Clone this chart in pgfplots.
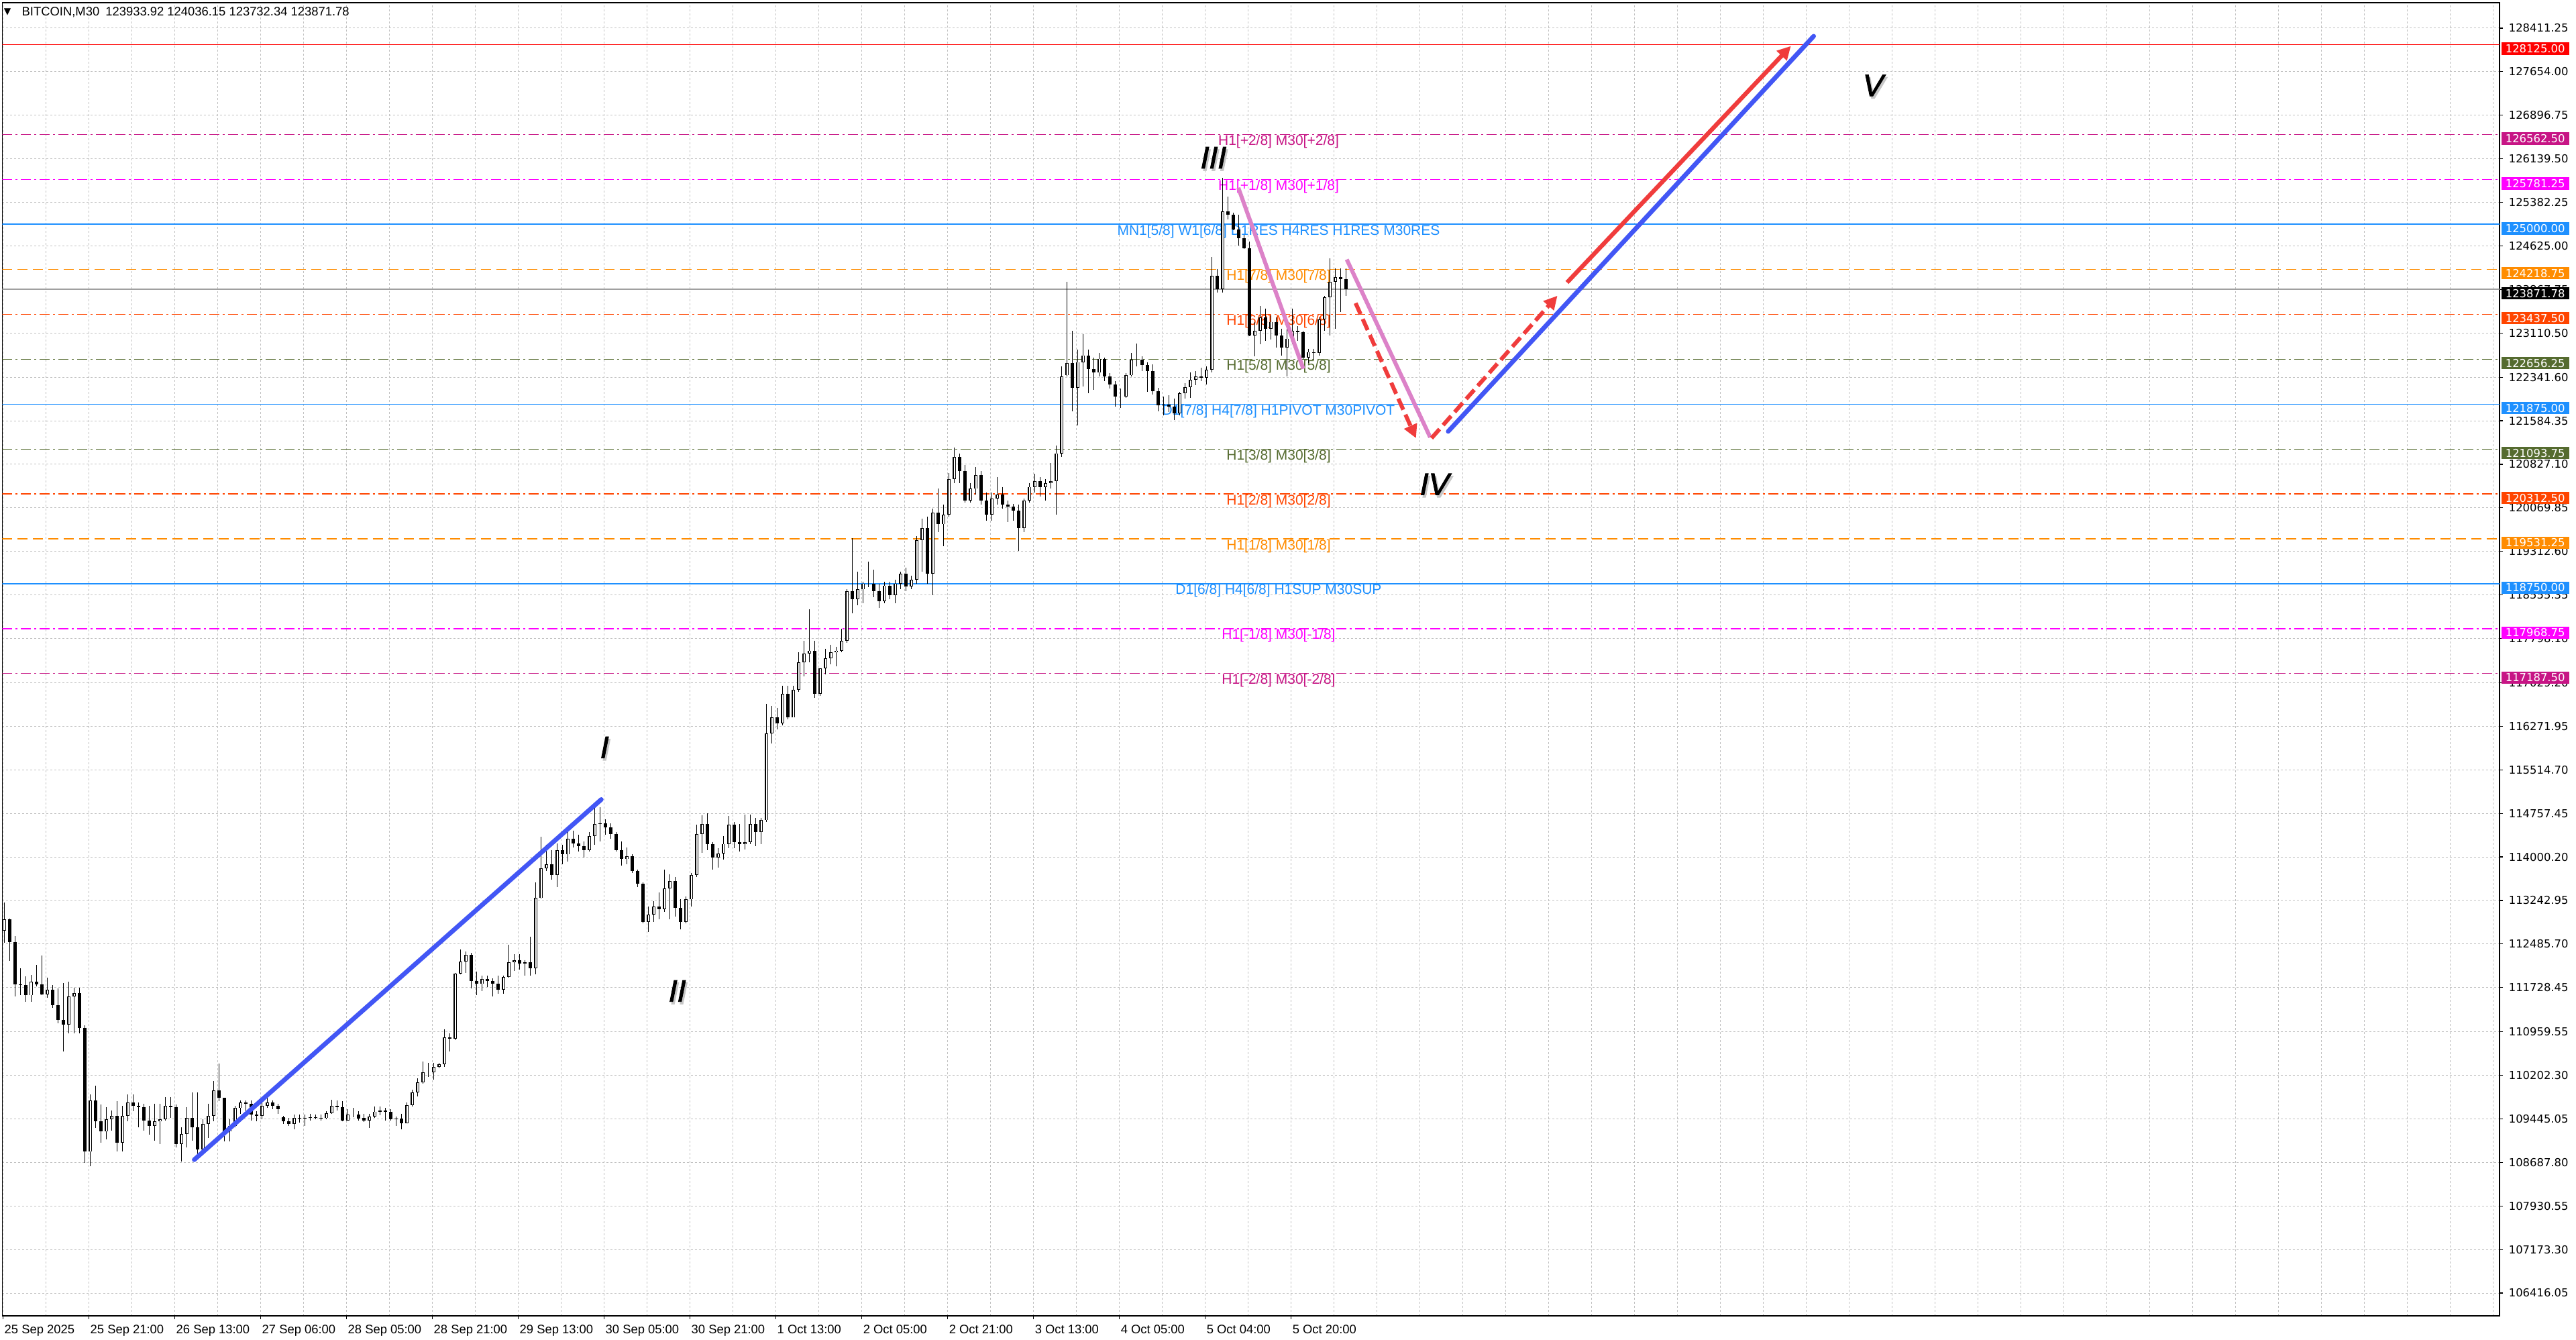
\documentclass[border=0pt]{standalone}
\usepackage{pgfplots}
\pgfplotsset{compat=1.18}
\usepackage{pgfplotstable}
\usetikzlibrary{arrows.meta}
\usepackage{fontspec}
\setmainfont{Liberation Sans}
\newfontfamily\dejavu{DejaVu Sans}
\newfontfamily\wavefont[FakeSlant=0.2,FakeBold=2]{Liberation Sans}

\definecolor{mvr}{RGB}{199,21,133}
\definecolor{mag}{RGB}{255,0,255}
\definecolor{dblue}{RGB}{30,144,255}
\definecolor{dorange}{RGB}{255,140,0}
\definecolor{ored}{RGB}{255,69,0}
\definecolor{dolive}{RGB}{85,107,47}
\definecolor{annblue}{RGB}{66,86,245}
\definecolor{annpink}{RGB}{220,130,200}
\definecolor{annred}{RGB}{240,60,60}
\definecolor{gridgray}{RGB}{192,192,192}
\definecolor{bidgray}{RGB}{160,160,160}

\tikzset{
  dashdot/.style={dash pattern=on 3.75pt off 1.25pt on 0.75pt off 1.25pt},
  longdash/.style={dash pattern=on 3.75pt off 2pt},
  lvl/.style={anchor=north, inner sep=0pt, font=\fontsize{5.25pt}{5.25pt}\selectfont},
  pbox/.style={anchor=west, xshift=0.5pt, yshift=-1.5pt, inner xsep=1.5pt, inner ysep=0pt,
     minimum height=4.6pt, text width=22.25pt, align=left, text=white,
     font=\dejavu\fontsize{4.1pt}{4.1pt}\selectfont},
}
\pgfplotsset{candle/.style={draw=none, mark=none, forget plot,
   error bars/.cd, y dir=minus, y explicit, error mark=none}}

\newcommand\wave[3]{%
  \node[font=\wavefont\fontsize{11.5pt}{11.5pt}\selectfont, text=black!22, xshift=0.6pt, yshift=-0.9pt] at (axis cs:#1,#2) {#3};
  \node[font=\wavefont\fontsize{11.5pt}{11.5pt}\selectfont, text=black] at (axis cs:#1,#2) {#3};
}

\pgfplotstableread{
x o h l c
0.5 112719 113204 112505 112913
2.5 112913 112932 112194 112524
4.5 112524 112622 111573 111787
6.5 111787 112059 111592 111767
8.5 111767 111923 111476 111592
10.5 111592 111942 111476 111826
12.5 111826 112117 111748 111787
14.5 111787 112291 111592 111612
16.5 111612 111903 111554 111690
18.5 111690 111767 111379 111418
20.5 111418 111709 111107 111165
22.5 111165 111806 110622 111088
24.5 111088 111826 110933 111573
26.5 111573 111728 110933 111631
28.5 111631 111728 110933 111030
30.5 111030 111068 108680 108874
32.5 108874 109865 108622 109768
34.5 109768 110020 109282 109399
36.5 109399 109690 109030 109224
38.5 109224 109651 109088 109438
40.5 109438 109593 109243 109496
42.5 109496 109749 108874 109030
44.5 109030 109671 108874 109496
46.5 109496 109865 109399 109729
48.5 109729 109865 109573 109671
50.5 109671 109729 109301 109651
52.5 109651 109710 109243 109418
54.5 109418 109671 109166 109321
56.5 109321 109710 109069 109399
58.5 109399 109710 109010 109438
60.5 109438 109826 109418 109671
62.5 109671 109826 109457 109651
64.5 109651 109690 108952 109010
66.5 109010 109301 108700 109185
68.5 109185 109651 108952 109457
70.5 109457 109903 109069 109301
72.5 109301 109903 108758 108913
74.5 108913 109438 108894 109360
76.5 109360 109710 109107 109496
78.5 109496 110098 109399 109942
80.5 109942 110408 109749 109807
82.5 109807 109807 109049 109224
84.5 109224 109438 109049 109321
86.5 109321 109671 109301 109632
88.5 109632 109768 109535 109729
90.5 109729 109768 109573 109710
92.5 109710 109768 109418 109515
94.5 109515 109573 109399 109496
96.5 109496 109749 109438 109671
98.5 109671 109826 109632 109729
100.5 109729 109768 109612 109671
102.5 109671 109710 109535 109612
104.5 109476 109496 109360 109399
106.5 109399 109457 109321 109360
108.5 109360 109515 109263 109457
110.5 109457 109515 109379 109465
112.5 109465 109515 109321 109457
114.5 109457 109535 109418 109476
116.5 109476 109515 109438 109465
118.5 109465 109515 109418 109457
120.5 109457 109573 109438 109542
122.5 109542 109775 109535 109671
124.5 109671 109760 109593 109651
126.5 109651 109749 109399 109418
128.5 109418 109612 109418 109515
130.5 109515 109632 109476 109515
132.5 109515 109573 109418 109449
134.5 109464 109537 109390 109415
136.5 109415 109537 109292 109488
138.5 109488 109660 109464 109572
140.5 109572 109660 109513 109586
142.5 109586 109635 109415 109572
144.5 109572 109611 109415 109439
146.5 109439 109488 109317 109454
148.5 109454 109537 109258 109366
150.5 109366 109733 109366 109684
152.5 109684 109954 109660 109905
154.5 109905 110149 109831 110076
156.5 110076 110444 110052 110257
158.5 110257 110419 110174 110257
160.5 110257 110419 110125 110346
162.5 110346 110419 110321 110394
164.5 110394 111007 110346 110860
166.5 110860 110933 110615 110835
168.5 110835 111986 110811 111972
170.5 111972 112388 111962 112182
172.5 112182 112354 111986 112295
174.5 112295 112329 111717 111839
176.5 111839 112011 111594 111790
178.5 111790 111937 111668 111874
180.5 111874 111937 111741 111839
182.5 111839 111888 111570 111790
184.5 111790 111937 111619 111692
186.5 111692 111937 111619 111913
188.5 111913 112476 111903 112167
190.5 112167 112305 112021 112207
192.5 112207 112305 112035 112148
194.5 112148 112207 111937 112167
196.5 112167 112608 111937 112060
198.5 112060 113554 111962 113284
200.5 113284 114352 113274 113799
202.5 113799 114215 113750 113872
204.5 113872 114117 113603 113686
206.5 113686 114239 113480 114117
208.5 114117 114215 113872 114043
210.5 114043 114470 113921 114313
212.5 114313 114460 114166 114239
214.5 114239 114386 114092 114190
216.5 114190 114264 113994 114117
218.5 114117 114435 114092 114362
220.5 114362 114852 114205 114567
222.5 114567 114861 114264 114582
224.5 114582 114656 114386 114509
226.5 114509 114582 114313 114401
228.5 114401 114435 114092 114117
230.5 114117 114264 113847 113960
232.5 113960 114166 113872 114009
234.5 114009 114043 113725 113750
236.5 113750 113774 113480 113529
238.5 113529 113554 112844 112868
240.5 112868 113137 112697 113000
242.5 113000 113235 112868 113137
244.5 113137 113382 112917 113088
246.5 113088 113774 113039 113456
248.5 113456 113701 112917 113578
250.5 113578 113652 112966 113113
252.5 113113 113260 112746 112868
254.5 112868 113309 112844 113260
256.5 113260 113725 113137 113686
258.5 113686 114558 113652 114401
260.5 114401 114729 114068 114567
262.5 114567 114754 114117 114227
264.5 114227 114261 113781 113987
266.5 113987 114158 113815 114055
268.5 114055 114364 113952 114227
270.5 114227 114707 114158 114556
272.5 114556 114604 114158 114261
274.5 114261 114570 114090 114227
276.5 114227 114741 114124 114261
278.5 114261 114741 114227 114570
280.5 114570 114673 114193 114433
282.5 114433 114673 114227 114638
284.5 114638 116662 114604 116148
286.5 116148 116628 115976 116422
288.5 116422 116594 116216 116319
290.5 116319 116971 116285 116834
292.5 116834 116971 116388 116422
294.5 116422 116971 116422 116902
296.5 116902 117554 116868 117382
298.5 117382 117760 117142 117533
300.5 117533 118309 117382 117588
302.5 117588 117760 116765 116834
304.5 116834 117280 116799 117280
306.5 117280 117623 117177 117451
308.5 117451 117691 117348 117554
310.5 117554 117657 117314 117588
312.5 117588 117966 117554 117760
314.5 117760 118652 117725 118617
316.5 118617 119543 118240 118480
318.5 118480 118960 118377 118652
320.5 118652 118789 118411 118754
322.5 118754 119132 118686 118754
324.5 118754 118995 118514 118617
326.5 118617 118754 118329 118446
328.5 118446 118789 118411 118720
330.5 118720 118789 118480 118549
332.5 118549 118823 118411 118754
334.5 118754 118960 118652 118926
336.5 118926 119029 118617 118700
338.5 118700 118892 118652 118823
340.5 118823 119578 118754 119509
342.5 119509 119886 118960 119715
344.5 119715 119921 118754 118926
346.5 118926 120058 118549 119989
348.5 119989 120401 119646 119783
350.5 119783 120126 119406 119955
352.5 119955 120675 119921 120572
354.5 120572 121121 120504 120950
356.5 120950 121018 120504 120710
358.5 120710 120812 120161 120195
360.5 120195 120504 120161 120401
362.5 120401 120778 120298 120641
364.5 120641 120710 120126 120195
366.5 120195 120332 119852 119955
368.5 119955 120332 119852 120229
370.5 120229 120607 120126 120298
372.5 120298 120435 120058 120126
374.5 120126 120195 119818 120092
376.5 120092 120140 119852 120024
378.5 120024 120126 119317 119715
380.5 119715 120229 119646 120195
382.5 120195 120504 120161 120435
384.5 120435 120662 120332 120538
386.5 120538 120607 120264 120435
388.5 120435 120572 120195 120504
390.5 120504 120847 120401 120538
392.5 120538 121155 119955 121018
394.5 121018 122527 120950 122356
396.5 122373 124004 122353 122586
398.5 122586 123149 121752 122159
400.5 122159 122819 121499 122606
402.5 122606 123091 122179 122722
404.5 122722 122819 122062 122489
406.5 122489 122684 122120 122420
408.5 122420 122761 122353 122664
410.5 122664 122684 122276 122353
412.5 122353 122412 122140 122218
414.5 122218 122276 121829 122004
416.5 122004 122140 121810 122004
418.5 122004 122412 121985 122373
420.5 122373 122761 122353 122645
422.5 122645 122928 122528 122645
424.5 122645 122703 122451 122548
426.5 122548 122606 122082 122451
428.5 122451 122567 122043 122101
430.5 122101 122159 121752 121849
432.5 121849 122004 121674 121868
434.5 121868 122023 121732 121829
436.5 121829 121965 121596 121713
438.5 121713 122082 121674 122062
440.5 122062 122237 121965 122171
442.5 122171 122431 121985 122295
444.5 122295 122451 122198 122353
446.5 122353 122509 122276 122334
448.5 122334 122528 122218 122470
450.5 122470 124431 122431 124101
452.5 124101 124217 123810 123868
454.5 123868 125809 123810 125227
456.5 125227 125479 125091 125169
458.5 125169 125208 124897 124916
460.5 124916 125169 124625 124761
462.5 124761 124819 124567 124586
464.5 124586 124703 123052 123072
466.5 123072 123305 122703 123149
468.5 123149 123577 122917 123382
470.5 123382 123538 122975 123188
472.5 123188 123421 122994 123305
474.5 123305 123382 122858 123072
476.5 123072 123188 122722 122858
478.5 122858 123188 122353 123014
480.5 123014 123538 122917 123149
482.5 123149 123227 122975 123130
484.5 123130 123149 122645 122684
486.5 122684 122839 122586 122781
488.5 122781 122839 122645 122761
490.5 122761 123382 122722 123344
492.5 123344 123751 123149 123732
494.5 123732 124412 123072 124004
496.5 124004 124237 123188 124081
498.5 124081 124237 123479 124042
500.5 124042 124237 123751 123872
}\candles

\begin{document}
\begin{tikzpicture}
\useasboundingbox (0,0) rectangle (960pt,499pt);
\fill[white] (0,0) rectangle (960pt,499pt);
\begin{axis}[
  at={(0.875pt,8.75pt)}, anchor=south west,
  scale only axis, width=930.625pt, height=489.25pt,
  xmin=-0.3, xmax=930.3, ymin=106019.2, ymax=128854.7,
  axis line style={black, line width=0.35pt},
  tick align=outside, major tick length=1.25pt,
  every tick/.style={black, line width=0.3pt},
  grid=major,
  grid style={gridgray, line width=0.25pt, dash pattern=on 0.75pt off 0.75pt},
  xtick={0,16,...,928}, xticklabels={}, xtick pos=bottom,
  x tick style={draw=none},
  extra x ticks={0,32,...,480},
  extra x tick labels={25 Sep 2025,25 Sep 21:00,26 Sep 13:00,27 Sep 06:00,28 Sep 05:00,28 Sep 21:00,29 Sep 13:00,30 Sep 05:00,30 Sep 21:00,1 Oct 13:00,2 Oct 05:00,2 Oct 21:00,3 Oct 13:00,4 Oct 05:00,5 Oct 04:00,5 Oct 20:00},
  extra x tick style={grid=none, x tick style={draw=black}},
  xticklabel style={anchor=north west, inner sep=0pt, xshift=0.3pt, yshift=-1.9pt, font=\fontsize{4.6pt}{4.6pt}\selectfont},
  ytick={106416.05,107173.30,107930.55,108687.80,109445.05,110202.30,110959.55,111728.45,112485.70,113242.95,114000.20,114757.45,115514.70,116271.95,117029.20,117798.10,118555.35,119312.60,120069.85,120827.10,121584.35,122341.60,123110.50,123867.75,124625.00,125382.25,126139.50,126896.75,127654.00,128411.25},
  yticklabels={106416.05,107173.30,107930.55,108687.80,109445.05,110202.30,110959.55,111728.45,112485.70,113242.95,114000.20,114757.45,115514.70,116271.95,117029.20,117798.10,118555.35,119312.60,120069.85,120827.10,121584.35,122341.60,123110.50,123867.75,124625.00,125382.25,126139.50,126896.75,127654.00,128411.25},
  ytick pos=right, yticklabel pos=right,
  yticklabel style={anchor=west, inner sep=0pt, xshift=2pt, font=\dejavu\fontsize{4.1pt}{4.1pt}\selectfont},
  scaled y ticks=false,
]
% level lines
\addplot[red, line width=0.3pt] coordinates {(-0.3,128125) (930.3,128125)};
\addplot[mvr, line width=0.3pt, dashdot] coordinates {(-0.3,126562.5) (930.3,126562.5)};
\addplot[mag, line width=0.3pt, dashdot] coordinates {(-0.3,125781.25) (930.3,125781.25)};
\addplot[dblue, line width=0.55pt] coordinates {(-0.3,125000) (930.3,125000)};
\addplot[dorange, line width=0.3pt, longdash] coordinates {(-0.3,124218.75) (930.3,124218.75)};
\addplot[bidgray, line width=0.3pt] coordinates {(-0.3,123871.78) (930.3,123871.78)};
\addplot[ored, line width=0.3pt, dashdot] coordinates {(-0.3,123437.5) (930.3,123437.5)};
\addplot[dolive, line width=0.3pt, dashdot] coordinates {(-0.3,122656.25) (930.3,122656.25)};
\addplot[dblue, line width=0.3pt] coordinates {(-0.3,121875) (930.3,121875)};
\addplot[dolive, line width=0.3pt, dashdot] coordinates {(-0.3,121093.75) (930.3,121093.75)};
\addplot[ored, line width=0.3pt, dashdot] coordinates {(-0.3,120312.5) (930.3,120312.5)};
\addplot[dorange, line width=0.3pt, longdash] coordinates {(-0.3,119531.25) (930.3,119531.25)};
\addplot[dblue, line width=0.3pt] coordinates {(-0.3,118750) (930.3,118750)};
\addplot[mag, line width=0.3pt, dashdot] coordinates {(-0.3,117968.75) (930.3,117968.75)};
\addplot[mvr, line width=0.3pt, dashdot] coordinates {(-0.3,117187.5) (930.3,117187.5)};

% level labels
\node[lvl, text=mvr] at (axis cs:475.3,126562.5) {H1[+2/8] M30[+2/8]};
\node[lvl, text=mag] at (axis cs:475.3,125781.25) {H1[+1/8] M30[+1/8]};
\node[lvl, text=dblue] at (axis cs:475.3,125000) {MN1[5/8] W1[6/8] D1RES H4RES H1RES M30RES};
\node[lvl, text=dorange] at (axis cs:475.3,124218.75) {H1[7/8] M30[7/8]};
\node[lvl, text=ored] at (axis cs:475.3,123437.5) {H1[6/8] M30[6/8]};
\node[lvl, text=dolive] at (axis cs:475.3,122656.25) {H1[5/8] M30[5/8]};
\node[lvl, text=dblue] at (axis cs:475.3,121875) {D1[7/8] H4[7/8] H1PIVOT M30PIVOT};
\node[lvl, text=dolive] at (axis cs:475.3,121093.75) {H1[3/8] M30[3/8]};
\node[lvl, text=ored] at (axis cs:475.3,120312.5) {H1[2/8] M30[2/8]};
\node[lvl, text=dorange] at (axis cs:475.3,119531.25) {H1[1/8] M30[1/8]};
\node[lvl, text=dblue] at (axis cs:475.3,118750) {D1[6/8] H4[6/8] H1SUP M30SUP};
\node[lvl, text=mag] at (axis cs:475.3,117968.75) {H1[-1/8] M30[-1/8]};
\node[lvl, text=mvr] at (axis cs:475.3,117187.5) {H1[-2/8] M30[-2/8]};

% candles: wicks
\addplot[candle, error bar style={draw=black, line width=0.3pt}]
  table[x=x, y=h, y error minus expr={\thisrow{h}-\thisrow{l}}] {\candles};
% bearish bodies
\addplot[candle, error bar style={draw=black, line width=1.2pt, line cap=butt}]
  table[x=x, y=o, y error minus expr={max(\thisrow{o}-\thisrow{c},0)}] {\candles};
% bullish bodies (outline)
\addplot[candle, error bar style={draw=black, line width=1.2pt, line cap=butt}]
  table[x=x, y=c, y error minus expr={max(\thisrow{c}-\thisrow{o},0)}] {\candles};
% bullish bodies (white inside)
\addplot[candle, error bar style={draw=white, line width=0.6pt, line cap=butt}]
  table[x=x, y expr={\thisrow{c}-10}, y error minus expr={max(\thisrow{c}-\thisrow{o}-20,0)}] {\candles};

% annotations
\addplot[annblue, line width=1.7pt, line cap=round] coordinates {(71.2,108734) (222.9,114999)};
\addplot[annpink, line width=1.5pt] coordinates {(460.3,125635) (484.5,122489)};
\addplot[annpink, line width=1.5pt] coordinates {(500.7,124389) (531.8,121297)};
\addplot[annred, line width=1.5pt, dash pattern=on 4.5pt off 2pt, -{Triangle[length=5pt,width=5pt]}] coordinates {(504,123630) (526.5,121282)};
\addplot[annred, line width=1.5pt, dash pattern=on 4.5pt off 2pt, -{Triangle[length=5pt,width=5pt]}] coordinates {(532.3,121282) (579.2,123758)};
\addplot[annblue, line width=1.7pt, line cap=round] coordinates {(538.5,121399) (674.7,128272)};
\addplot[annred, line width=1.6pt, -{Triangle[length=5pt,width=5pt]}] coordinates {(582.8,123989) (666.2,128101)};

% wave labels
\wave{223.5}{115905}{I}
\wave{250.6}{111668}{II}
\wave{450.4}{126159}{III}
\wave{532.8}{120480}{IV}
\wave{696.2}{127416}{V}

% header
\node[anchor=center, inner sep=0pt, font=\dejavu\fontsize{3.4pt}{3.4pt}\selectfont, xshift=1.9pt, yshift=-3.4pt] at (rel axis cs:0,1) {▼};
\node[anchor=west, inner sep=0pt, font=\fontsize{4.6pt}{4.6pt}\selectfont, xshift=7.1pt, yshift=-3.5pt] at (rel axis cs:0,1) {BITCOIN,M30\hspace{0.5em}123933.92 124036.15 123732.34 123871.78};

% anchors for price boxes
\coordinate (b1) at (axis cs:930.3,128125);
\coordinate (b2) at (axis cs:930.3,126562.5);
\coordinate (b3) at (axis cs:930.3,125781.25);
\coordinate (b4) at (axis cs:930.3,125000);
\coordinate (b5) at (axis cs:930.3,124218.75);
\coordinate (b6) at (axis cs:930.3,123871.78);
\coordinate (b7) at (axis cs:930.3,123437.5);
\coordinate (b8) at (axis cs:930.3,122656.25);
\coordinate (b9) at (axis cs:930.3,121875);
\coordinate (b10) at (axis cs:930.3,121093.75);
\coordinate (b11) at (axis cs:930.3,120312.5);
\coordinate (b12) at (axis cs:930.3,119531.25);
\coordinate (b13) at (axis cs:930.3,118750);
\coordinate (b14) at (axis cs:930.3,117968.75);
\coordinate (b15) at (axis cs:930.3,117187.5);
\end{axis}
\node[pbox, fill=red] at (b1) {128125.00};
\node[pbox, fill=mvr] at (b2) {126562.50};
\node[pbox, fill=mag] at (b3) {125781.25};
\node[pbox, fill=dblue] at (b4) {125000.00};
\node[pbox, fill=dorange] at (b5) {124218.75};
\node[pbox, fill=black] at (b6) {123871.78};
\node[pbox, fill=ored] at (b7) {123437.50};
\node[pbox, fill=dolive] at (b8) {122656.25};
\node[pbox, fill=dblue] at (b9) {121875.00};
\node[pbox, fill=dolive] at (b10) {121093.75};
\node[pbox, fill=ored] at (b11) {120312.50};
\node[pbox, fill=dorange] at (b12) {119531.25};
\node[pbox, fill=dblue] at (b13) {118750.00};
\node[pbox, fill=mag] at (b14) {117968.75};
\node[pbox, fill=mvr] at (b15) {117187.50};
\end{tikzpicture}
\end{document}
